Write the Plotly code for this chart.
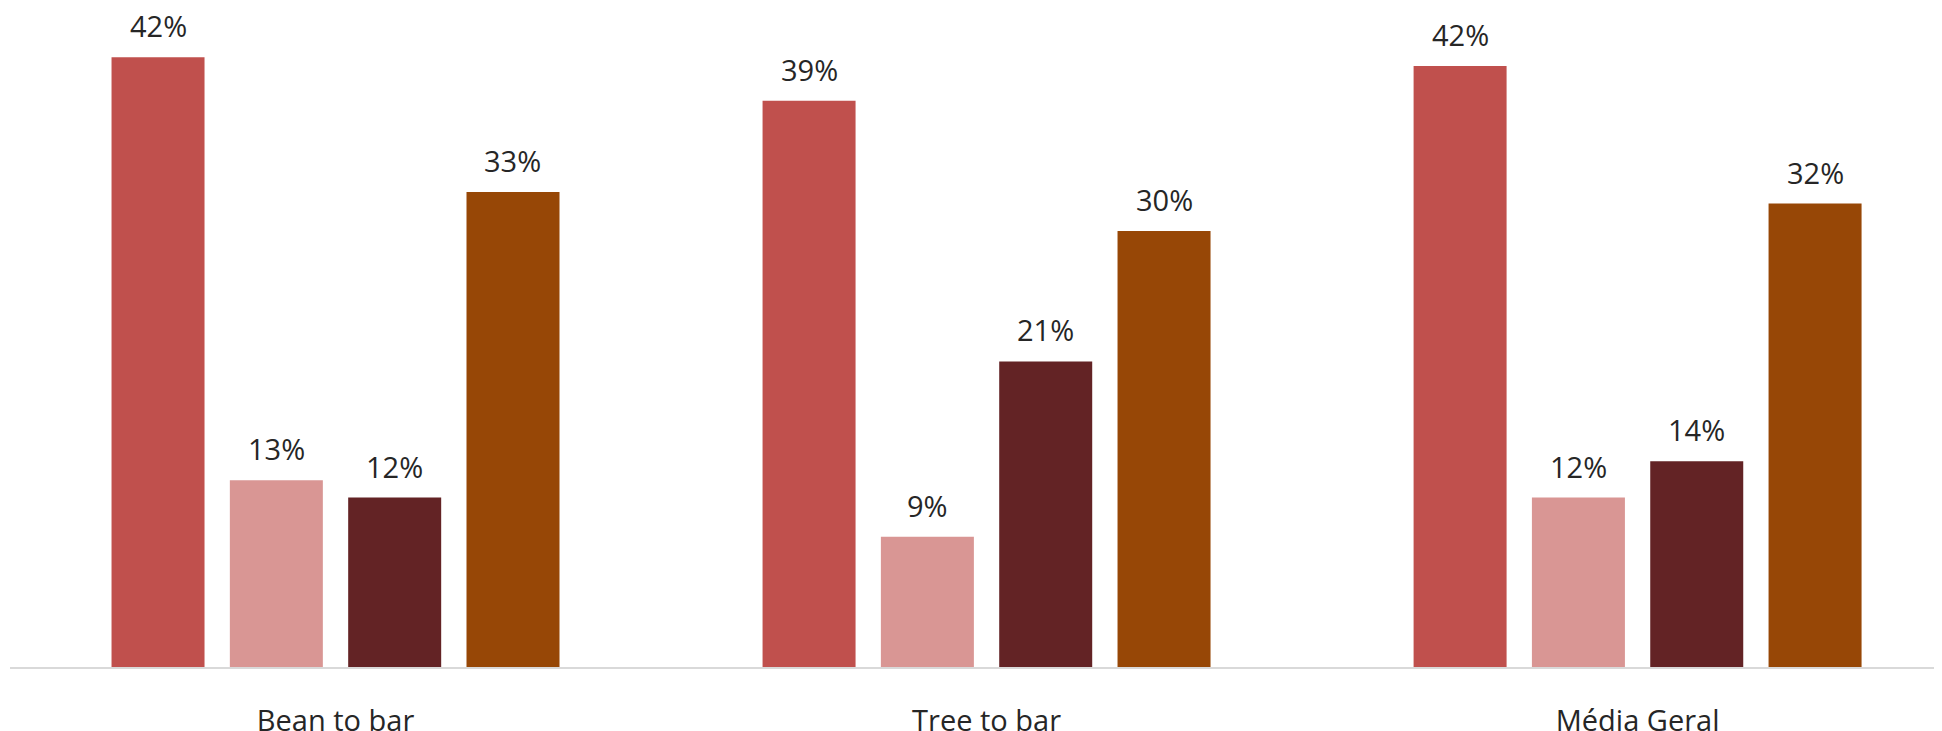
import plotly.graph_objects as go

categories = ["Bean to bar", "Tree to bar", "Média Geral"]
series_names = ["Série 1", "Série 2", "Série 3", "Série 4"]
serie1 = [0.421, 0.391, 0.415]
serie2 = [0.129, 0.090, 0.117]
serie3 = [0.117, 0.211, 0.142]
serie4 = [0.328, 0.301, 0.320]
colors = ["#C0504D", "#D99694", "#632325", "#974706"]

all_series = [serie1, serie2, serie3, serie4]

# layout constants (pixels)
BAR_PITCH = 118.3
LABEL_FONT = dict(family="Open Sans", size=29, color="#262626")

fig = go.Figure()
for name, vals, col in zip(series_names, all_series, colors):
    fig.add_trace(go.Bar(
        x=categories, y=vals, name=name,
        marker=dict(color=col, line=dict(width=0)),
        cliponaxis=False,
    ))

# value labels above the bars
for i, vals in enumerate(all_series):
    offset = (i - 1.5) * BAR_PITCH
    for cat, v in zip(categories, vals):
        fig.add_annotation(
            x=cat, y=v, xref="x", yref="y",
            text=f"{round(v * 100):d}%",
            showarrow=False, xanchor="center", yanchor="bottom",
            xshift=offset, yshift=10,
            font=LABEL_FONT,
        )

fig.update_layout(
    width=1942, height=731,
    margin=dict(l=2, r=8, t=0, b=69),
    barmode="group", bargap=0.273, bargroupgap=0.214,
    plot_bgcolor="white", paper_bgcolor="white",
    showlegend=False,
    font=dict(family="Open Sans", color="#262626"),
)
fig.update_xaxes(
    range=[-0.5, 2.4676], showgrid=False, zeroline=False,
    showline=True, linecolor="#D9D9D9", linewidth=2,
    ticks="", tickfont=LABEL_FONT,
    ticklabelstandoff=27,
)
fig.update_yaxes(range=[0, 0.455], visible=False)

fig.write_html("out.html")
